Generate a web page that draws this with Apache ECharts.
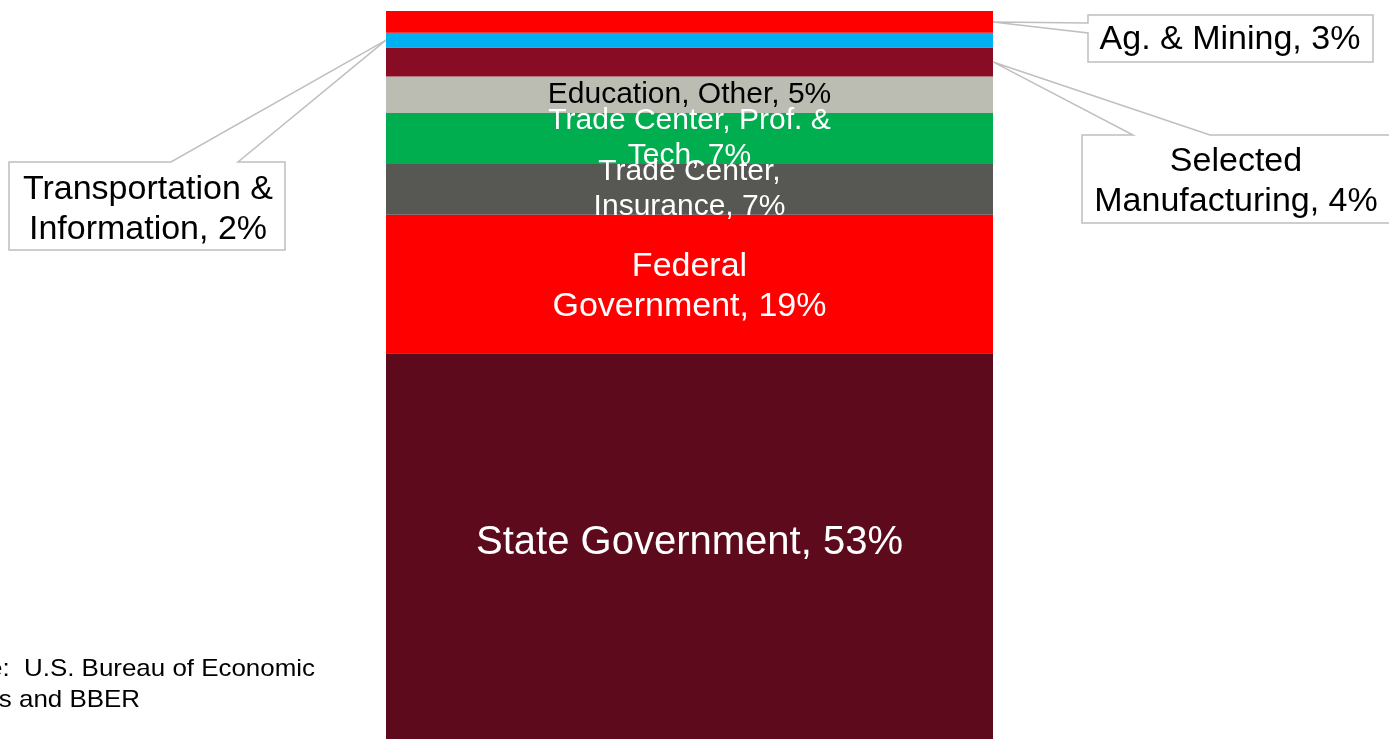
<!DOCTYPE html>
<html>
<head>
<meta charset="utf-8">
<script src="https://cdn.jsdelivr.net/npm/echarts@6/dist/echarts.min.js"></script>
<style>
html,body{margin:0;padding:0;background:#fff;}
#c{width:1389px;height:739px;}
</style>
</head>
<body>
<div id="c"></div>
<script>
// Data (bottom to top of the stacked bar)
const categories = ['Share'];
const seriesNames = ['State Government','Federal Government','Trade Center, Insurance','Trade Center, Prof. & Tech','Education, Other','Selected Manufacturing','Transportation & Information','Ag. & Mining'];
const seriesValues = [53, 19, 7, 7, 5, 4, 2, 3];
const labelTexts = ['State Government, 53%','Federal\nGovernment, 19%','Trade Center,\nInsurance, 7%','Trade Center, Prof. &\nTech, 7%','Education, Other, 5%','','',''];
const calloutTexts = ['Ag. & Mining, 3%','Selected\nManufacturing, 4%','Transportation &\nInformation, 2%'];
const sourceLines = ['Source:  U.S. Bureau of Economic','Analysis and BBER'];

const colors = ['#5D0B1C','#FF0000','#575853','#00AE4F','#BBBDB3','#880C24','#00B0F0','#FF0000'];
const labelColors = ['#fff','#fff','#fff','#fff','#000','#fff','#fff','#fff'];
const labelSizes = [40,34,30,30,30,30,30,30];
const labelLH = [46,40,35,35,35,35,35,35];
const FONT = '"Liberation Sans", Arial, sans-serif';

const chart = echarts.init(document.getElementById('c'));
const series = seriesNames.map((n,i)=>({
  name:n, type:'bar', stack:'total', barWidth:'100%',
  data:[seriesValues[i]],
  itemStyle:{color:colors[i]},
  label:{show: labelTexts[i] !== '', position:'inside', formatter: labelTexts[i],
    color: labelColors[i], fontSize: labelSizes[i], fontFamily: FONT,
    lineHeight: labelLH[i], textBorderWidth:0, offset:[0, i===1 ? 3 : (i===0 ? -3 : 0)]},
  emphasis:{disabled:true},
  silent:true,
  animation:false
}));

chart.setOption({
  animation:false,
  grid:{left:386, right:396, top:11, bottom:0, containLabel:false},
  xAxis:{type:'category', data:categories, show:false},
  yAxis:{type:'value', min:0, max:100, show:false},
  series: series
});

// Callouts pointing at segments
function cum(idx){ let s=0; for(let i=0;i<idx;i++) s+=seriesValues[i]; return s; }
function midY(idx){ return chart.convertToPixel({gridIndex:0},[0, cum(idx)+seriesValues[idx]/2])[1]; }
const leftX = 386, rightX = 1389-396;
const stroke = '#BFBFBF';
const agTip = [rightX, midY(7)];
const mfTip = [rightX, midY(5)];
const trTip = [leftX, midY(6)];

const graphics = [
  {type:'polygon', shape:{points:[[1088,15],[1373,15],[1373,62],[1088,62],[1088,33],agTip,[1088,23]]},
    style:{fill:'#fff', stroke:stroke, lineWidth:1.5}, z:10},
  {type:'text', x:1230, y:40, style:{text:calloutTexts[0], align:'center', verticalAlign:'middle', fontSize:34, fontFamily:FONT, fill:'#000'}, z:11},
  {type:'polygon', shape:{points:[[1082,135],[1133,135],mfTip,[1210,135],[1400,135],[1400,223],[1082,223]]},
    style:{fill:'#fff', stroke:stroke, lineWidth:1.5}, z:10},
  {type:'text', x:1236, y:182, style:{text:calloutTexts[1], align:'center', verticalAlign:'middle', fontSize:34, lineHeight:40, fontFamily:FONT, fill:'#000'}, z:11},
  {type:'polygon', shape:{points:[[9,162],[171,162],trTip,[238,162],[285,162],[285,250],[9,250]]},
    style:{fill:'#fff', stroke:stroke, lineWidth:1.5}, z:10},
  {type:'text', x:148, y:210, style:{text:calloutTexts[2], align:'center', verticalAlign:'middle', fontSize:34, lineHeight:40, fontFamily:FONT, fill:'#000'}, z:11},
  {type:'text', x:315, y:669, scaleX:1.08, style:{text:sourceLines[0], align:'right', verticalAlign:'middle', fontSize:24, fontFamily:FONT, fill:'#000'}, z:11},
  {type:'text', x:140, y:700, scaleX:1.08, style:{text:sourceLines[1], align:'right', verticalAlign:'middle', fontSize:24, fontFamily:FONT, fill:'#000'}, z:11}
];
chart.setOption({graphic: graphics});
</script>
</body>
</html>
